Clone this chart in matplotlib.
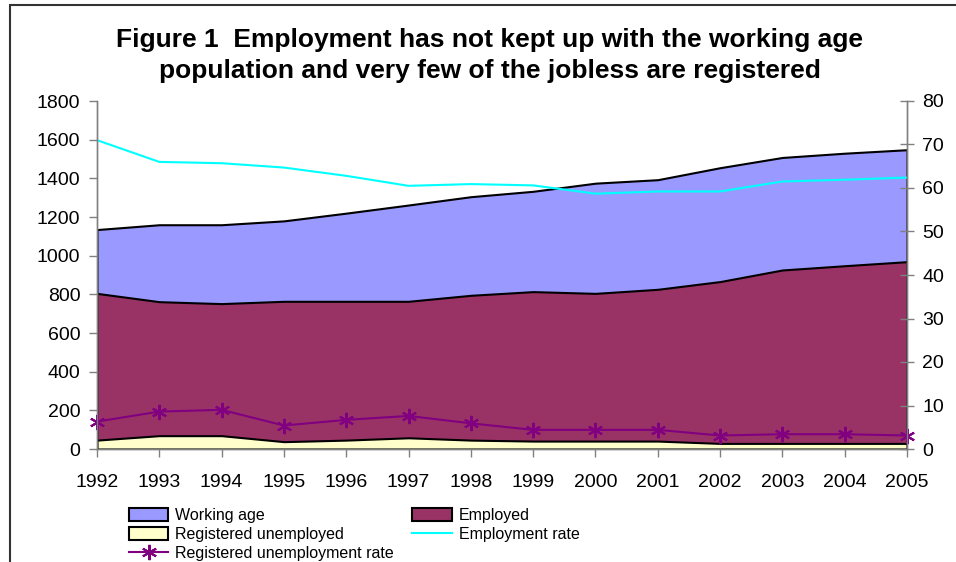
import matplotlib.pyplot as plt
from matplotlib.patches import Patch, Rectangle
from matplotlib.lines import Line2D

plt.rcParams['font.family'] = ['Liberation Sans', 'DejaVu Sans']

years = [1992, 1993, 1994, 1995, 1996, 1997, 1998,
         1999, 2000, 2001, 2002, 2003, 2004, 2005]
working_age = [1135, 1160, 1160, 1180, 1220, 1262, 1305,
               1333, 1375, 1393, 1455, 1508, 1530, 1548]
employed = [805, 762, 752, 764, 764, 764, 795,
            814, 805, 826, 866, 926, 948, 969]
reg_unemployed = [46, 69, 69, 38, 46, 58, 46,
                  41, 41, 41, 29, 29, 29, 29]
employment_rate = [71.0, 66.0, 65.7, 64.7, 62.8, 60.5, 60.9,
                   60.6, 58.7, 59.2, 59.2, 61.5, 61.9, 62.4]
reg_unemp_rate = [6.3, 8.6, 9.0, 5.4, 6.7, 7.6, 5.9,
                  4.4, 4.4, 4.4, 3.1, 3.4, 3.4, 3.1]

c_working = '#9999FF'
c_employed = '#993366'
c_unemp = '#FFFFCC'
c_rate = '#00FFFF'
c_unrate = '#800080'
grey = '#808080'
asterisk = (6, 2, 0)

fig = plt.figure(figsize=(9.56, 5.62), dpi=100)
ax = fig.add_axes([97 / 956, 1 - 449 / 562, 810 / 956, 348 / 562])
ax2 = ax.twinx()

# overlapping (not stacked) areas, each filled down to zero
ax.fill_between(years, 0, working_age, facecolor=c_working,
                edgecolor='black', linewidth=1.5, zorder=1)
ax.fill_between(years, 0, employed, facecolor=c_employed,
                edgecolor='black', linewidth=1.5, zorder=2)
ax.fill_between(years, 0, reg_unemployed, facecolor=c_unemp,
                edgecolor='black', linewidth=1.5, zorder=3)

ax2.plot(years, employment_rate, color=c_rate, linewidth=1.5)
ax2.plot(years, reg_unemp_rate, color=c_unrate, linewidth=1.5,
         marker=asterisk, markersize=11, markeredgewidth=1.5,
         clip_on=False)

ax.set_xlim(1992, 2005)
ax.set_ylim(0, 1800)
ax2.set_ylim(0, 80)
ax.set_xticks(years)
ax.set_yticks(range(0, 1801, 200))
ax2.set_yticks(range(0, 81, 10))

for a in (ax, ax2):
    for side in a.spines:
        a.spines[side].set_color(grey)
        a.spines[side].set_linewidth(1.0)
    a.spines['top'].set_visible(False)

ax.tick_params(axis='x', direction='out', length=6, width=1, color=grey,
               labelsize=14, pad=12)
ax.tick_params(axis='y', direction='out', length=6, width=1, color=grey,
               labelsize=14, pad=6)
ax2.tick_params(axis='y', direction='inout', length=10, width=1, color=grey,
                labelsize=14, pad=6)

fig.text(490 / 956, 1 - 47 / 562,
         'Figure 1  Employment has not kept up with the working age',
         ha='center', va='baseline', fontsize=19, fontweight='bold')
fig.text(490 / 956, 1 - 78 / 562,
         'population and very few of the jobless are registered',
         ha='center', va='baseline', fontsize=19, fontweight='bold')

# chart frame, running off the right and bottom edges
fig.patches.append(Rectangle((10 / 956, -0.1), 1.0, 1 - 5 / 562 + 0.1,
                             transform=fig.transFigure, fill=False,
                             edgecolor='#333333', linewidth=1.5))

handles = [
    Patch(facecolor=c_working, edgecolor='black', linewidth=1.5),
    Patch(facecolor=c_unemp, edgecolor='black', linewidth=1.5),
    Line2D([], [], color=c_unrate, linewidth=1.5, marker=asterisk,
           markersize=11, markeredgewidth=1.5),
    Patch(facecolor=c_employed, edgecolor='black', linewidth=1.5),
    Line2D([], [], color=c_rate, linewidth=1.5),
]
labels = ['Working age', 'Registered unemployed',
          'Registered unemployment rate', 'Employed', 'Employment rate']
fig.legend(handles, labels, ncol=2, loc='upper left',
           bbox_to_anchor=(129 / 956, 1 - 508 / 562),
           frameon=False, fontsize=11.5, handlelength=2.45, handleheight=0.85,
           handletextpad=0.45, labelspacing=0.24, columnspacing=1.15,
           borderaxespad=0, borderpad=0)

fig.savefig('out.png', dpi=100)
